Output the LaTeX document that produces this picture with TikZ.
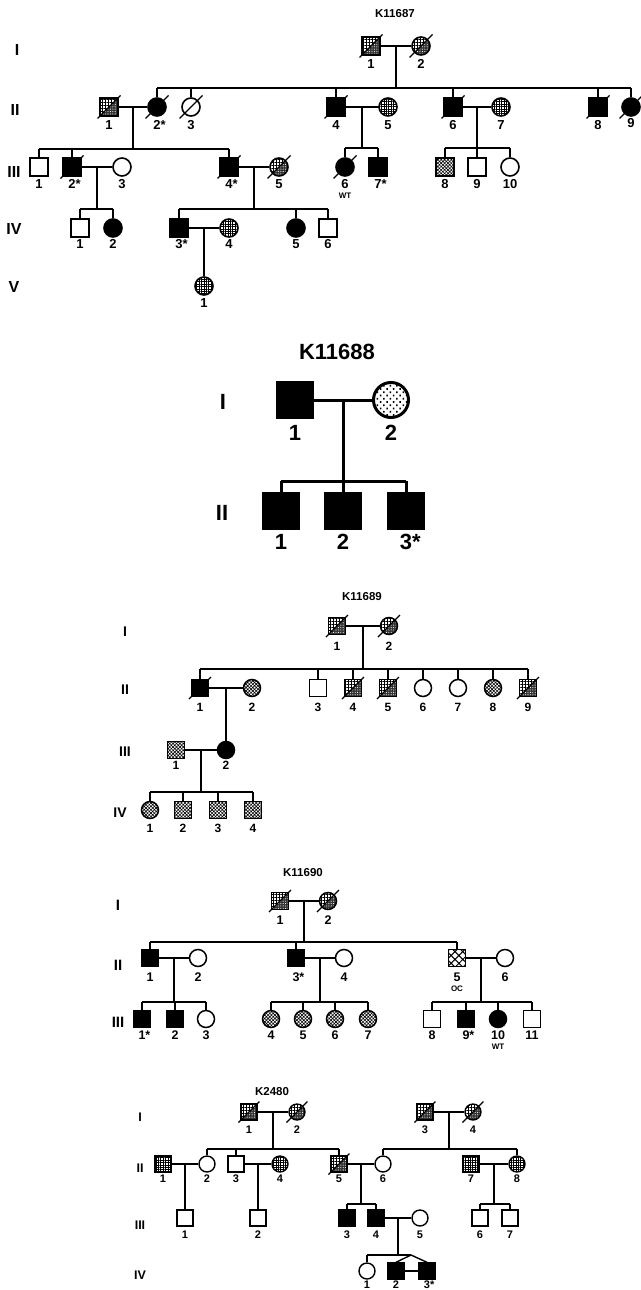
\documentclass[tikz,border=0pt]{standalone}
\usepackage{fontspec}
\setmainfont{Liberation Sans}
\usetikzlibrary{patterns.meta,calc}
\newcommand\indiv[6]{\node[#2] (#1) at (#3,#4) {}; \node[lab] (#1n) at (#3,#5) {#6};}
\newcommand\dec[1]{\draw[slash] ([shift={(-\sl,\sl)}]#1.center) -- ([shift={(\sl,-\sl)}]#1.center);}
\newcommand\famline[7]{%
  \draw[ln] (#2) -- (#3);
  \coordinate (#1m) at ($(#2)!0.5!(#3)$);
  \coordinate (#1s) at (#1m |- 0,#4);
  \draw[ln] (#1m) -- (#1s);
  \draw[ln] (#5.north |- #1s) -- (#6.north |- #1s);
  \foreach \ch in {#7} {\draw[ln] (\ch.north) -- (\ch.north |- #1s);}
}
\newcommand\onekid[4]{%
  \draw[ln] (#2) -- (#3);
  \coordinate (#1m) at ($(#2)!0.5!(#3)$);
  \draw[ln] (#1m) -- (#4.north);
}
\begin{document}
\begin{tikzpicture}[x=1pt,y=-1pt,
  ln/.style={line width=\lw},
  sym/.style={draw, line width=\lw, inner sep=0pt, minimum size=\ss},
  sq/.style={sym, rectangle},
  ci/.style={sym, circle},
  blk/.style={fill=black},
  grd/.style={pattern={Hatch[angle=0,distance=2.4pt,line width=1pt]}},
  hlf/.style={pattern={Hatch[angle=0,distance=3pt,line width=0.6pt]},
    path picture={
      \fill[black!80] (path picture bounding box.south west) -- (path picture bounding box.north east) -- (path picture bounding box.south east) -- cycle;
      \fill[pattern={Dots[distance=2.4pt,radius=0.55pt]}, pattern color=white] (path picture bounding box.south west) -- (path picture bounding box.north east) -- (path picture bounding box.south east) -- cycle;}},
  dts/.style={pattern={Hatch[angle=45,distance=2.4pt,line width=0.6pt]}},
  spd/.style={pattern={Dots[distance=4.6pt,radius=1.1pt,angle=45]}},
  oc/.style={pattern={Hatch[angle=45,distance=5.5pt,line width=1pt]}},
  lab/.style={inner sep=0pt, font=\bfseries\fontsize{\ls}{\ls}\selectfont},
  gen/.style={inner sep=0pt, font=\bfseries\fontsize{\gs}{\gs}\selectfont},
  ttl/.style={inner sep=0pt, font=\bfseries\fontsize{\ts}{\ts}\selectfont},
  sml/.style={inner sep=0pt, font=\bfseries\fontsize{8}{8}\selectfont},
  slash/.style={line width=1.2pt}]
\useasboundingbox (0,0) rectangle (640,1290);

% ================= K11687 =================
\begin{scope}
\def\ss{18pt}\def\ls{13}\def\gs{16}\def\ts{11.5}\def\lw{1.6pt}\def\sl{11.5}
\node[ttl] (t1) at (395,14) {K11687};
\node[gen] (ag1) at (17,50) {I};
\node[gen] (ag2) at (15,110) {II};
\node[gen] (ag3) at (14,172) {III};
\node[gen] (ag4) at (14,229) {IV};
\node[gen] (ag5) at (14,287) {V};
\indiv{aI1}{sq,hlf}{371}{46}{64}{1}
\indiv{aI2}{ci,hlf}{421}{46}{64}{2}
\indiv{aII1}{sq,hlf}{109}{107}{125}{1}
\indiv{aII2}{ci,blk}{157}{107}{125}{2\rlap{*}}
\indiv{aII3}{ci}{191}{107}{125}{3}
\indiv{aII4}{sq,blk}{336}{107}{125}{4}
\indiv{aII5}{ci,grd}{388}{107}{125}{5}
\indiv{aII6}{sq,blk}{453}{107}{125}{6}
\indiv{aII7}{ci,grd}{501}{107}{125}{7}
\indiv{aII8}{sq,blk}{598}{107}{125}{8}
\indiv{aII9}{ci,blk}{631}{107}{123}{9}
\indiv{aIII1}{sq}{39}{167}{184}{1}
\indiv{aIII2}{sq,blk}{72}{167}{184}{2\rlap{*}}
\indiv{aIII3}{ci}{122}{167}{184}{3}
\indiv{aIII4}{sq,blk}{229}{167}{184}{4\rlap{*}}
\indiv{aIII5}{ci,hlf}{279}{167}{184}{5}
\indiv{aIII6}{ci,blk}{345}{167}{184}{6}
\indiv{aIII7}{sq,blk}{378}{167}{184}{7\rlap{*}}
\indiv{aIII8}{sq,dts}{445}{167}{184}{8}
\indiv{aIII9}{sq}{477}{167}{184}{9}
\indiv{aIII10}{ci}{510}{167}{184}{10}
\node[sml] (aWT) at (345,196) {WT};
\indiv{aIV1}{sq}{80}{228}{244}{1}
\indiv{aIV2}{ci,blk}{113}{228}{244}{2}
\indiv{aIV3}{sq,blk}{179}{228}{244}{3\rlap{*}}
\indiv{aIV4}{ci,grd}{229}{228}{244}{4}
\indiv{aIV5}{ci,blk}{296}{228}{244}{5}
\indiv{aIV6}{sq}{328}{228}{244}{6}
\indiv{aV1}{ci,grd}{204}{286}{303}{1}
\foreach \d in {aI1,aI2,aII1,aII2,aII3,aII4,aII6,aII8,aII9,aIII2,aIII4,aIII5,aIII6} {\dec{\d}}
\famline{aA}{aI1}{aI2}{88}{aII2}{aII9}{aII2,aII3,aII4,aII6,aII8,aII9}
\famline{aB}{aII1}{aII2}{149}{aIII1}{aIII4}{aIII1,aIII2,aIII4}
\famline{aC}{aII4}{aII5}{148}{aIII6}{aIII7}{aIII6,aIII7}
\famline{aD}{aII6}{aII7}{148}{aIII8}{aIII10}{aIII8,aIII9,aIII10}
\famline{aE}{aIII2}{aIII3}{209}{aIV1}{aIV2}{aIV1,aIV2}
\famline{aF}{aIII4}{aIII5}{209}{aIV3}{aIV6}{aIV3,aIV5,aIV6}
\onekid{aG}{aIV3}{aIV4}{aV1}
\end{scope}

% ================= K11688 =================
\begin{scope}
\def\ss{35pt}\def\ls{22}\def\gs{22}\def\ts{22}\def\lw{3pt}\def\sl{20}
\node[ttl] (t2) at (337,352) {K11688};
\node[gen] (bg1) at (223,402) {I};
\node[gen] (bg2) at (222,513) {II};
\indiv{bI1}{sq,blk}{295}{400}{433}{1}
\indiv{bI2}{ci,spd}{391}{400}{433}{2}
\indiv{bII1}{sq,blk}{281}{511}{542}{1}
\indiv{bII2}{sq,blk}{343}{511}{542}{2}
\indiv{bII3}{sq,blk}{406}{511}{542}{3\rlap{*}}
\famline{bA}{bI1}{bI2}{481}{bII1}{bII3}{bII1,bII2,bII3}
\end{scope}

% ================= K11689 =================
\begin{scope}
\def\ss{17pt}\def\ls{12}\def\gs{14}\def\ts{11.5}\def\lw{1.5pt}\def\sl{11}
\node[ttl] (t3) at (362,597) {K11689};
\node[gen] (cg1) at (125,632) {I};
\node[gen] (cg2) at (125,690) {II};
\node[gen] (cg3) at (125,752) {III};
\node[gen] (cg4) at (120,813) {IV};
\indiv{cI1}{sq,hlf}{337}{626}{646}{1}
\indiv{cI2}{ci,hlf}{389}{626}{646}{2}
\indiv{cII1}{sq,blk}{200}{688}{707}{1}
\indiv{cII2}{ci,dts}{252}{688}{707}{2}
\indiv{cII3}{sq}{318}{688}{707}{3}
\indiv{cII4}{sq,hlf}{353}{688}{707}{4}
\indiv{cII5}{sq,hlf}{388}{688}{707}{5}
\indiv{cII6}{ci}{423}{688}{707}{6}
\indiv{cII7}{ci}{458}{688}{707}{7}
\indiv{cII8}{ci,dts}{493}{688}{707}{8}
\indiv{cII9}{sq,hlf}{528}{688}{707}{9}
\indiv{cIII1}{sq,dts}{176}{750}{765}{1}
\indiv{cIII2}{ci,blk}{226}{750}{765}{2}
\indiv{cIV1}{ci,dts}{150}{810}{828}{1}
\indiv{cIV2}{sq,dts}{183}{810}{828}{2}
\indiv{cIV3}{sq,dts}{218}{810}{828}{3}
\indiv{cIV4}{sq,dts}{253}{810}{828}{4}
\foreach \d in {cI1,cI2,cII1,cII4,cII5,cII9} {\dec{\d}}
\famline{cA}{cI1}{cI2}{669}{cII1}{cII9}{cII1,cII3,cII4,cII5,cII6,cII7,cII8,cII9}
\onekid{cB}{cII1}{cII2}{cIII2}
\famline{cC}{cIII1}{cIII2}{792}{cIV1}{cIV4}{cIV1,cIV2,cIV3,cIV4}
\end{scope}

% ================= K11690 =================
\begin{scope}
\def\ss{17pt}\def\ls{12.5}\def\gs{15}\def\ts{11.5}\def\lw{1.5pt}\def\sl{11}
\node[ttl] (t4) at (303,873) {K11690};
\node[gen] (dg1) at (118,905) {I};
\node[gen] (dg2) at (118,965) {II};
\node[gen] (dg3) at (118,1022) {III};
\indiv{dI1}{sq,hlf}{280}{901}{920}{1}
\indiv{dI2}{ci,hlf}{328}{901}{920}{2}
\indiv{dII1}{sq,blk}{150}{958}{977}{1}
\indiv{dII2}{ci}{198}{958}{977}{2}
\indiv{dII3}{sq,blk}{296}{958}{977}{3\rlap{*}}
\indiv{dII4}{ci}{344}{958}{977}{4}
\indiv{dII5}{sq,oc}{457}{958}{977}{5}
\indiv{dII6}{ci}{505}{958}{977}{6}
\node[sml] (dOC) at (457,989) {OC};
\indiv{dIII1}{sq,blk}{142}{1019}{1035}{1\rlap{*}}
\indiv{dIII2}{sq,blk}{175}{1019}{1035}{2}
\indiv{dIII3}{ci}{206}{1019}{1035}{3}
\indiv{dIII4}{ci,dts}{271}{1019}{1035}{4}
\indiv{dIII5}{ci,dts}{303}{1019}{1035}{5}
\indiv{dIII6}{ci,dts}{335}{1019}{1035}{6}
\indiv{dIII7}{ci,dts}{368}{1019}{1035}{7}
\indiv{dIII8}{sq}{432}{1019}{1035}{8}
\indiv{dIII9}{sq,blk}{466}{1019}{1035}{9\rlap{*}}
\indiv{dIII10}{ci,blk}{498}{1019}{1035}{10}
\indiv{dIII11}{sq}{532}{1019}{1035}{11}
\node[sml] (dWT) at (498,1047) {WT};
\foreach \d in {dI1,dI2} {\dec{\d}}
\famline{dA}{dI1}{dI2}{942}{dII1}{dII5}{dII1,dII3,dII5}
\famline{dB}{dII1}{dII2}{1002}{dIII1}{dIII3}{dIII1,dIII2,dIII3}
\famline{dC}{dII3}{dII4}{1002}{dIII4}{dIII7}{dIII4,dIII5,dIII6,dIII7}
\famline{dD}{dII5}{dII6}{1002}{dIII8}{dIII11}{dIII8,dIII9,dIII10,dIII11}
\end{scope}

% ================= K2480 =================
\begin{scope}
\def\ss{16pt}\def\ls{11}\def\gs{12.5}\def\ts{11.5}\def\lw{1.4pt}\def\sl{10.5}
\node[ttl] (t5) at (272,1092) {K2480};
\node[gen] (eg1) at (140,1117) {I};
\node[gen] (eg2) at (140,1168) {II};
\node[gen] (eg3) at (140,1225) {III};
\node[gen] (eg4) at (140,1275) {IV};
\indiv{eI1}{sq,hlf}{249}{1112}{1130}{1}
\indiv{eI2}{ci,hlf}{297}{1112}{1130}{2}
\indiv{eI3}{sq,hlf}{425}{1112}{1130}{3}
\indiv{eI4}{ci,hlf}{473}{1112}{1130}{4}
\indiv{eII1}{sq,grd}{163}{1164}{1179}{1}
\indiv{eII2}{ci}{207}{1164}{1179}{2}
\indiv{eII3}{sq}{236}{1164}{1179}{3}
\indiv{eII4}{ci,grd}{280}{1164}{1179}{4}
\indiv{eII5}{sq,hlf}{339}{1164}{1179}{5}
\indiv{eII6}{ci}{383}{1164}{1179}{6}
\indiv{eII7}{sq,grd}{471}{1164}{1179}{7}
\indiv{eII8}{ci,grd}{517}{1164}{1179}{8}
\indiv{eIII1}{sq}{185}{1218}{1235}{1}
\indiv{eIII2}{sq}{258}{1218}{1235}{2}
\indiv{eIII3}{sq,blk}{347}{1218}{1235}{3}
\indiv{eIII4}{sq,blk}{376}{1218}{1235}{4}
\indiv{eIII5}{ci}{420}{1218}{1235}{5}
\indiv{eIII6}{sq}{480}{1218}{1235}{6}
\indiv{eIII7}{sq}{510}{1218}{1235}{7}
\indiv{eIV1}{ci}{367}{1271}{1284.5}{1}
\indiv{eIV2}{sq,blk}{396}{1271}{1284.5}{2}
\indiv{eIV3}{sq,blk}{427}{1271}{1284.5}{3\rlap{*}}
\foreach \d in {eI1,eI2,eI3,eI4,eII5} {\dec{\d}}
\famline{eA}{eI1}{eI2}{1149}{eII2}{eII5}{eII2,eII3,eII5}
\famline{eB}{eI3}{eI4}{1149}{eII6}{eII8}{eII6,eII8}
\onekid{eC}{eII1}{eII2}{eIII1}
\onekid{eD}{eII3}{eII4}{eIII2}
\famline{eE}{eII5}{eII6}{1204}{eIII3}{eIII4}{eIII3,eIII4}
\famline{eF}{eII7}{eII8}{1204}{eIII6}{eIII7}{eIII6,eIII7}
\draw[ln] (eIII4) -- (eIII5);
\coordinate (eGm) at ($(eIII4)!0.5!(eIII5)$);
\coordinate (eGs) at (eGm |- 0,1255);
\coordinate (eTw) at (411,1255);
\draw[ln] (eGm) -- (eGs);
\draw[ln] (eIV1.north |- eGs) -- (eTw);
\draw[ln] (eIV1.north) -- (eIV1.north |- eGs);
\draw[ln] (eTw) -- (eIV2.north);
\draw[ln] (eTw) -- (eIV3.north);
\draw[ln] (eIV2) -- (eIV3);
\end{scope}
\end{tikzpicture}
\end{document}
